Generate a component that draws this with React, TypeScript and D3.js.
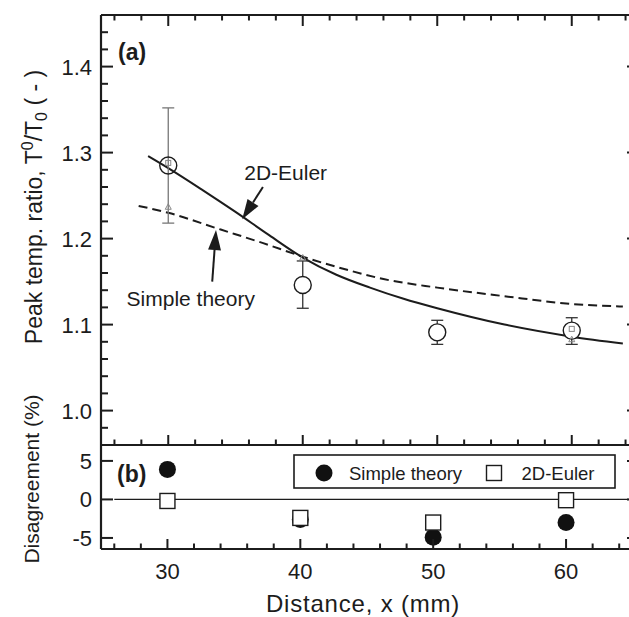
import React from "react";
import * as d3 from "d3";

// ---------- data ----------
const expX = [30, 40, 50, 60];
const expY = [1.285, 1.146, 1.091, 1.093];
const expErrLo = [1.218, 1.119, 1.077, 1.077];
const expErrHi = [1.352, 1.174, 1.105, 1.108];

const greySqX = [30, 60];
const greySqY = [1.288, 1.095];
const greyTriX = [30, 40, 60];
const greyTriY = [1.237, 1.178, 1.083];

const eulerX = [28.5, 30, 32.5, 35, 37.5, 40, 42.5, 45, 47.5, 50, 55, 60, 63.8];
const eulerY = [1.296, 1.282, 1.257, 1.231, 1.204, 1.178, 1.158, 1.143, 1.13, 1.119, 1.1, 1.086, 1.078];

const simpleX = [27.8, 30, 33.9, 37, 40, 43.7, 46, 50, 55, 60, 63.8];
const simpleY = [1.238, 1.23, 1.2105, 1.195, 1.179, 1.162, 1.153, 1.143, 1.133, 1.124, 1.121];

const disX = [30, 40, 50, 60];
const disSimple = [3.9, -2.6, -4.9, -3.0];
const disEuler = [-0.2, -2.4, -3.0, -0.1];

const topYTicks = [1.0, 1.1, 1.2, 1.3, 1.4];
const xTicks = [30, 40, 50, 60];
const botYTicks = [-5, 0, 5];

const FONT = "'Liberation Sans', Arial, sans-serif";
const INK = "#1c1c1c";

export default function App() {
  const L = 101, R = 639, T = 15, M = 445, B = 549;
  const xTop = d3.scaleLinear().domain([25, 65]).range([L, R]);
  const xBot = d3.scaleLinear().domain([25, 65]).range([L, 632.5]);
  const yTop = d3.scaleLinear().domain([0.96, 1.46]).range([M, T]);
  const yBot = d3.scaleLinear().domain([-6.5, 7]).range([549.5, 445.5]);

  const xMinorTop = d3.range(26, 65, 2).filter((v) => v % 10 !== 0);
  const yMinorTop = d3.range(0.96, 1.46, 0.02).filter((v) => Math.abs(v * 10 - Math.round(v * 10)) > 1e-6);

  const eulerLine = d3
    .line<number>()
    .x((_, i) => xTop(eulerX[i]))
    .y((d) => yTop(d))
    .curve(d3.curveMonotoneX);
  const simpleLine = d3
    .line<number>()
    .x((_, i) => xTop(simpleX[i]))
    .y((d) => yTop(d))
    .curve(d3.curveMonotoneX);

  const arrow = (x1: number, y1: number, x2: number, y2: number) => {
    const dx = x2 - x1, dy = y2 - y1;
    const len = Math.hypot(dx, dy);
    const ux = dx / len, uy = dy / len;
    const hl = 20, hw = 6.5;
    const bx = x2 - ux * hl, by = y2 - uy * hl;
    const p = `${x2},${y2} ${bx - uy * hw},${by + ux * hw} ${bx + uy * hw},${by - ux * hw}`;
    return (
      <g>
        <line x1={x1} y1={y1} x2={bx} y2={by} stroke={INK} strokeWidth={2} />
        <polygon points={p} fill={INK} />
      </g>
    );
  };

  const r = 8.5;
  const cap = 6;
  const sq = 15;

  return (
    <svg width={629} height={617} style={{ position: "absolute", left: 0, top: 0 }} fontFamily={FONT}>
      <rect x={0} y={0} width={629} height={617} fill="#fff" />

      {/* ---------- top panel ---------- */}
      <path d={simpleLine(simpleY) || ""} fill="none" stroke={INK} strokeWidth={2} strokeDasharray="9,5" />
      <path d={eulerLine(eulerY) || ""} fill="none" stroke={INK} strokeWidth={2} />

      {expX.map((x, i) => (
        <g key={"e" + i}>
          <line x1={xTop(x)} x2={xTop(x)} y1={yTop(expErrHi[i])} y2={yTop(expErrLo[i])} stroke={i === 0 ? "#777" : "#333"} strokeWidth={1.3} />
          <line x1={xTop(x) - cap} x2={xTop(x) + cap} y1={yTop(expErrHi[i])} y2={yTop(expErrHi[i])} stroke={i === 0 ? "#777" : "#333"} strokeWidth={1.3} />
          <line x1={xTop(x) - cap} x2={xTop(x) + cap} y1={yTop(expErrLo[i])} y2={yTop(expErrLo[i])} stroke={i === 0 ? "#777" : "#333"} strokeWidth={1.3} />
          <circle cx={xTop(x)} cy={yTop(expY[i])} r={r} fill={i === 0 ? "none" : "#fff"} stroke={INK} strokeWidth={1.4} />
        </g>
      ))}
      {greySqX.map((x, i) => (
        <rect key={"gs" + i} x={xTop(x) - 2.5} y={yTop(greySqY[i]) - 2.5} width={5} height={5} fill="none" stroke="#888" strokeWidth={1} />
      ))}
      {greyTriX.map((x, i) => {
        const cx = xTop(x), cy = yTop(greyTriY[i]);
        return <polygon key={"gt" + i} points={`${cx},${cy - 3} ${cx - 3},${cy + 2.5} ${cx + 3},${cy + 2.5}`} fill="none" stroke="#888" strokeWidth={1} />;
      })}

      {/* annotations */}
      <text x={xTop(35.65)} y={yTop(1.268)} fontSize={21} fill={INK}>2D-Euler</text>
      {arrow(xTop(37.04), yTop(1.26), xTop(35.5), yTop(1.2224))}
      <text x={xTop(26.9)} y={yTop(1.1216)} fontSize={21} fill={INK}>Simple theory</text>
      {arrow(xTop(33.27), yTop(1.15), xTop(33.55), yTop(1.21))}

      <text x={118} y={60} fontSize={23} fontWeight="bold" fill={INK}>(a)</text>

      {xTicks.map((v) => (
        <g key={"xt" + v}>
          <line x1={xTop(v)} x2={xTop(v)} y1={T} y2={T + 11} stroke={INK} strokeWidth={2} />
          <line x1={xTop(v)} x2={xTop(v)} y1={M} y2={M - 10} stroke={INK} strokeWidth={2} />
        </g>
      ))}
      {xMinorTop.map((v) => (
        <g key={"xm" + v}>
          <line x1={xTop(v)} x2={xTop(v)} y1={T} y2={T + 5.5} stroke={INK} strokeWidth={2} />
          <line x1={xTop(v)} x2={xTop(v)} y1={M} y2={M - 5.5} stroke={INK} strokeWidth={2} />
        </g>
      ))}
      {topYTicks.map((v) => (
        <g key={"yt" + v}>
          <line x1={L} x2={L + 12} y1={yTop(v)} y2={yTop(v)} stroke={INK} strokeWidth={2} />
          <line x1={R} x2={R - 12} y1={yTop(v)} y2={yTop(v)} stroke={INK} strokeWidth={2} />
          <text x={92} y={yTop(v)} dy="0.36em" textAnchor="end" fontSize={22} fill={INK}>{v.toFixed(1)}</text>
        </g>
      ))}
      {yMinorTop.map((v) => (
        <g key={"ym" + v.toFixed(2)}>
          <line x1={L} x2={L + 7} y1={yTop(v)} y2={yTop(v)} stroke={INK} strokeWidth={2} />
          <line x1={R} x2={R - 7} y1={yTop(v)} y2={yTop(v)} stroke={INK} strokeWidth={2} />
        </g>
      ))}

      {/* ---------- bottom panel ---------- */}
      <line x1={xBot(26)} x2={R} y1={yBot(0)} y2={yBot(0)} stroke={INK} strokeWidth={1.2} />
      {disX.map((x, i) => (
        <circle key={"ds" + i} cx={xBot(x)} cy={yBot(disSimple[i])} r={r} fill="#111" />
      ))}
      {disX.map((x, i) => (
        <rect key={"de" + i} x={xBot(x) - sq / 2} y={yBot(disEuler[i]) - sq / 2} width={sq} height={sq} fill="#fff" stroke={INK} strokeWidth={1.4} />
      ))}

      <rect x={294} y={455} width={321} height={33} fill="#fff" stroke={INK} strokeWidth={1.6} />
      <circle cx={324} cy={473} r={r} fill="#111" />
      <text x={349} y={473} dy="0.36em" fontSize={18.5} fill={INK}>Simple theory</text>
      <rect x={494 - 7.5} y={473 - 7.5} width={15} height={15} fill="#fff" stroke={INK} strokeWidth={1.4} />
      <text x={521.5} y={473} dy="0.36em" fontSize={18.5} fill={INK}>2D-Euler</text>

      <text x={117} y={481.5} fontSize={23} fontWeight="bold" fill={INK}>(b)</text>

      {xTicks.map((v) => (
        <g key={"bx" + v}>
          <line x1={xBot(v)} x2={xBot(v)} y1={B} y2={B - 10} stroke={INK} strokeWidth={2} />
          <text x={xBot(v)} y={579} textAnchor="middle" fontSize={22} fill={INK}>{v}</text>
        </g>
      ))}
      {xMinorTop.map((v) => (
        <line key={"bm" + v} x1={xBot(v)} x2={xBot(v)} y1={B} y2={B - 5.5} stroke={INK} strokeWidth={2} />
      ))}
      {botYTicks.map((v) => (
        <g key={"by" + v}>
          <line x1={L} x2={L + 12} y1={yBot(v)} y2={yBot(v)} stroke={INK} strokeWidth={2} />
          <line x1={R} x2={R - 12} y1={yBot(v)} y2={yBot(v)} stroke={INK} strokeWidth={2} />
          <text x={92} y={yBot(v)} dy="0.36em" textAnchor="end" fontSize={22} fill={INK}>{v}</text>
        </g>
      ))}

      <line x1={L} x2={L} y1={T} y2={B} stroke={INK} strokeWidth={2.2} />
      <line x1={R} x2={R} y1={T} y2={B} stroke={INK} strokeWidth={2.2} />
      <line x1={L} x2={R} y1={T} y2={T} stroke={INK} strokeWidth={2.2} />
      <line x1={L} x2={R} y1={M} y2={M} stroke={INK} strokeWidth={2.2} />
      <line x1={L} x2={R} y1={B} y2={B} stroke={INK} strokeWidth={2.2} />

      <text x={363} y={611.5} textAnchor="middle" fontSize={24} letterSpacing={0.8} fill={INK}>Distance, x (mm)</text>
      <text transform="translate(42,207) rotate(-90)" textAnchor="middle" fontSize={23} fill={INK}>
        Peak temp. ratio, T
        <tspan fontSize={16} dy={-9}>0</tspan>
        <tspan dy={9}>/T</tspan>
        <tspan fontSize={16} dy={5}>0</tspan>
        <tspan dy={-5}> ( - )</tspan>
      </text>
      <text transform="translate(39,479) rotate(-90)" textAnchor="middle" fontSize={21} fill={INK}>Disagreement (%)</text>
    </svg>
  );
}
